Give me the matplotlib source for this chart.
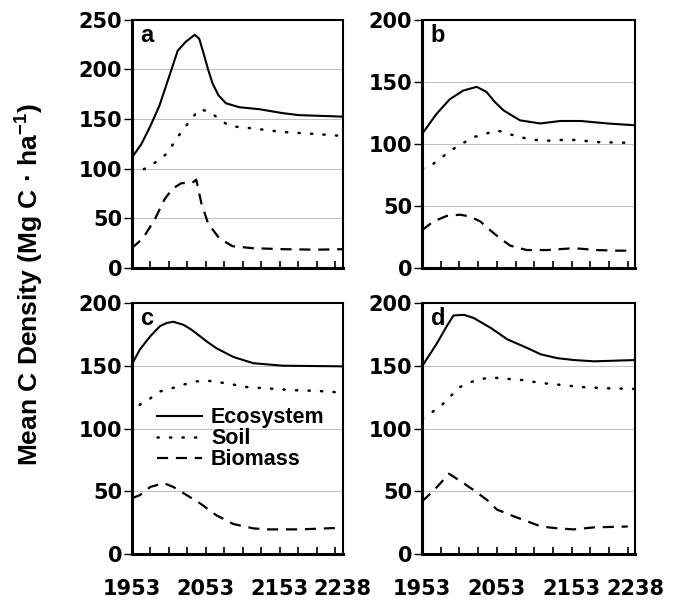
import matplotlib
matplotlib.use('Agg')
import matplotlib.pyplot as plt
from matplotlib.ticker import FixedLocator, NullFormatter

plt.rcParams['font.family'] = ['Liberation Sans', 'DejaVu Sans']
plt.rcParams['mathtext.fontset'] = 'custom'
plt.rcParams['mathtext.rm'] = 'Liberation Sans:bold'
plt.rcParams['mathtext.bf'] = 'Liberation Sans:bold'

yrs_a_eco = [1953, 1966, 1978, 1990, 2003, 2015, 2026, 2038, 2044, 2050, 2056, 2062, 2070, 2080, 2098, 2125, 2157, 2179, 2238]
eco_a = [111, 125, 143, 163, 192, 219, 228, 235, 231, 216, 200, 186, 174, 166, 162, 160, 156, 154, 152.5]
yrs_a_soil = [1953, 1968, 1984, 2000, 2015, 2026, 2044, 2058, 2071, 2085, 2112, 2157, 2202, 2238]
soil_a = [96, 99, 106, 115, 132, 143, 160, 157.5, 150, 143, 141, 137, 135, 133]
yrs_a_bio = [1953, 1968, 1984, 1997, 2008, 2020, 2035, 2040, 2047, 2056, 2071, 2089, 2116, 2157, 2202, 2238]
bio_a = [20, 30, 49, 69, 80, 85.5, 86, 89, 65, 45, 30, 22, 20, 19, 18.5, 19]

yrs_b_eco = [1953, 1972, 1990, 2008, 2026, 2039, 2050, 2062, 2084, 2111, 2138, 2165, 2201, 2238]
eco_b = [108, 124, 136, 143, 146, 142, 134, 127, 119, 116.5, 118.5, 118.5, 116.5, 115]
yrs_b_soil = [1953, 1968, 1979, 1992, 2006, 2022, 2037, 2053, 2069, 2084, 2100, 2118, 2151, 2170, 2187, 2223, 2238]
soil_b = [80, 84, 89, 95, 100, 105.5, 108, 111, 108, 105.5, 103.5, 102.5, 103.5, 102.5, 101.5, 101, 100]
yrs_b_bio = [1953, 1968, 1986, 2004, 2017, 2031, 2044, 2057, 2071, 2093, 2120, 2156, 2187, 2214, 2238]
bio_b = [30.5, 37.5, 42, 43, 41.5, 37.5, 30.5, 24, 18, 14.5, 14.5, 16, 14.5, 14, 14]

yrs_c_eco = [1953, 1964, 1978, 1991, 2000, 2009, 2023, 2034, 2045, 2056, 2067, 2090, 2117, 2157, 2238]
eco_c = [151, 163, 173.5, 181.5, 184, 185, 182.5, 178.5, 173.5, 168.5, 164, 157, 152, 150, 149.5]
yrs_c_soil = [1953, 1964, 1978, 1991, 2007, 2023, 2040, 2056, 2081, 2108, 2135, 2171, 2202, 2238]
soil_c = [111, 119, 124, 129.5, 132, 135, 137.5, 138, 136, 133, 132, 130.5, 130, 128.5]
yrs_c_bio = [1953, 1964, 1978, 1996, 2009, 2027, 2045, 2067, 2090, 2117, 2135, 2180, 2238]
bio_c = [44.5, 47, 53.5, 56.5, 53.5, 47, 40.5, 31, 24, 20.5, 19.7, 19.7, 21]

yrs_d_eco = [1953, 1973, 1986, 1995, 2009, 2022, 2045, 2067, 2094, 2112, 2134, 2156, 2183, 2238]
eco_d = [149.5, 168, 181.5, 190, 190.5, 188, 180, 171, 164, 159, 156, 154.5, 153.5, 154.5]
yrs_d_soil = [1953, 1964, 1978, 1989, 2000, 2016, 2031, 2049, 2067, 2082, 2098, 2116, 2134, 2167, 2201, 2238]
soil_d = [108, 112, 118, 124, 132, 136.5, 139.5, 140.5, 139.5, 139, 137.5, 136, 135, 133, 132, 131.5]
yrs_d_bio = [1953, 1962, 1973, 1989, 2002, 2022, 2040, 2053, 2076, 2094, 2112, 2134, 2156, 2183, 2228]
bio_d = [42, 47, 53.5, 64, 59, 51, 43, 35.5, 30, 26, 22, 20.5, 19.7, 21.3, 22]

panels = [
    ('a', 250, (yrs_a_eco, eco_a), (yrs_a_soil, soil_a), (yrs_a_bio, bio_a)),
    ('b', 200, (yrs_b_eco, eco_b), (yrs_b_soil, soil_b), (yrs_b_bio, bio_b)),
    ('c', 200, (yrs_c_eco, eco_c), (yrs_c_soil, soil_c), (yrs_c_bio, bio_c)),
    ('d', 200, (yrs_d_eco, eco_d), (yrs_d_soil, soil_d), (yrs_d_bio, bio_d)),
]
xlabels = [1953, 2053, 2153, 2238]
minor_x = list(range(1953, 2239, 25)) + [2238]

fig = plt.figure(figsize=(6.83, 6.01), dpi=100)
boxes = [(0.193, 0.554, 0.309, 0.413), (0.618, 0.554, 0.312, 0.413),
         (0.193, 0.078, 0.309, 0.418), (0.618, 0.078, 0.312, 0.418)]
tickfont = {'family': 'DejaVu Sans', 'weight': 'bold', 'size': 15}

for i, (letter, ymax, eco, soil, bio) in enumerate(panels):
    ax = fig.add_axes(boxes[i])
    ax.plot(eco[0], eco[1], color='black', lw=1.5, label='Ecosystem')
    ax.plot(soil[0], soil[1], color='black', lw=1.8, ls=(0, (0.5, 4.5)),
            dash_capstyle='round', label='Soil')
    ax.plot(bio[0], bio[1], color='black', lw=1.6, ls=(0, (5, 3.5)), label='Biomass')
    ax.set_xlim(1953, 2238)
    ax.set_ylim(0, ymax)
    ax.set_yticks(range(0, ymax + 1, 50))
    ax.yaxis.grid(True, color='0.65', lw=0.5)
    ax.set_axisbelow(True)
    ax.xaxis.set_major_locator(FixedLocator(xlabels))
    ax.xaxis.set_minor_locator(FixedLocator(minor_x))
    ax.xaxis.set_minor_formatter(NullFormatter())
    ax.tick_params(axis='x', which='both', direction='in', length=5, width=1.2)
    ax.tick_params(axis='x', which='major', pad=18)
    ax.tick_params(axis='y', direction='out', length=6, width=1.0, pad=1)
    for lab in ax.get_xticklabels() + ax.get_yticklabels():
        lab.set_fontproperties(tickfont)
    if i < 2:
        ax.set_xticklabels([])
    for side in ['left', 'bottom']:
        ax.spines[side].set_linewidth(2.2)
    for side in ['top', 'right']:
        ax.spines[side].set_linewidth(1.5)
    ax.text(0.04, 0.985, letter, transform=ax.transAxes, va='top', ha='left',
            fontsize=17, fontweight='bold')
    if letter == 'c':
        ax.legend(loc='upper left', bbox_to_anchor=(0.12, 0.585), frameon=False,
                  prop={'weight': 'bold', 'size': 15.5}, handlelength=2.1,
                  handletextpad=0.4, labelspacing=0.0, borderpad=0,
                  borderaxespad=0)

fig.text(0.042, 0.527, 'Mean C Density (Mg C \u00b7 ha$^{-1}$)', rotation=90,
         ha='center', va='center', fontsize=19, fontweight='bold')

fig.savefig('out.png', dpi=100)
